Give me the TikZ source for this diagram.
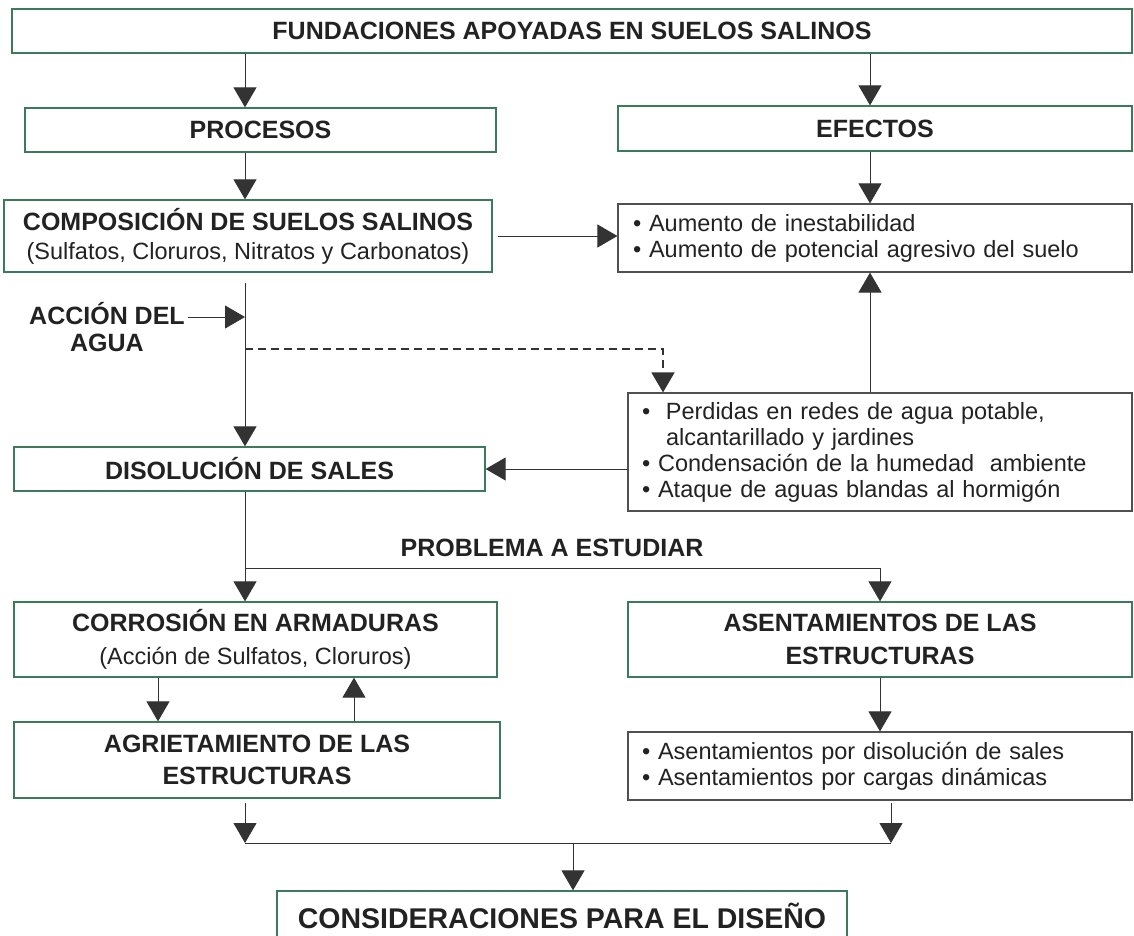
\documentclass[tikz,border=0pt]{standalone}
\usepackage{fontspec}
\setmainfont{Liberation Sans}
\usetikzlibrary{arrows.meta}
\definecolor{BoxGreen}{HTML}{3B7A5A}
\definecolor{BoxGray}{HTML}{505050}
\definecolor{LineGray}{HTML}{333333}
\definecolor{TextGray}{HTML}{222222}

\tikzset{
  titlebox/.style={draw=BoxGreen, line width=1.3pt, text=TextGray, align=center,
    inner sep=0pt, font=\bfseries\fontsize{25}{32}\selectfont},
  listbox/.style={draw=BoxGray, line width=1.2pt, text=TextGray, align=left,
    inner xsep=14pt, inner ysep=0pt, font=\fontsize{23.5}{26}\selectfont},
  headtext/.style={text=TextGray, align=center, font=\bfseries\fontsize{25}{27}\selectfont},
  flow/.style={LineGray, line width=1pt, -{Triangle[length=20pt,width=23pt]}},
  link/.style={LineGray, line width=1pt},
}

\begin{document}
\begin{tikzpicture}[x=1pt,y=-1pt]
  \fill[white] (0,0) rectangle (1134,935);
  \useasboundingbox (0,0) rectangle (1134,935);
  % columnas y puntos de union
  \coordinate (lcol) at (245,0);
  \coordinate (rcol) at (870,0);
  \coordinate (dcol) at (663,0);
  \coordinate (scol) at (880,0);
  \coordinate (wjoin) at (245,317);
  \coordinate (djoin) at (245,349);
  \coordinate (split) at (245,568);
  \coordinate (mleft) at (245,843);
  \coordinate (mmid) at (573,843);
  \coordinate (mright) at (891,843);

  % cajas
  \node[titlebox, minimum width=1120pt, minimum height=44pt] (top) at (572,31) {FUNDACIONES APOYADAS EN SUELOS SALINOS};
  \node[titlebox, minimum width=471pt, minimum height=44pt] (proc) at (260.5,130) {PROCESOS};
  \node[titlebox, minimum width=514pt, minimum height=45pt] (efec) at (875,128.5) {EFECTOS};
  \node[titlebox, font=\bfseries\fontsize{25}{29}\selectfont, minimum width=488pt, minimum height=72pt] (comp) at (248,236)
    {COMPOSICIÓN DE SUELOS SALINOS\\{\mdseries\fontsize{23.5}{29}\selectfont (Sulfatos, Cloruros, Nitratos y Carbonatos)}};
  \node[listbox, inner xsep=15pt, text width=484pt, minimum height=68pt] (aum) at (875,238)
    {• Aumento de inestabilidad\\• Aumento de potencial agresivo del suelo};
  \node[headtext] (agua) at (107,327) {ACCIÓN DEL\\AGUA};
  \node[listbox, text width=476pt, minimum height=118pt] (perd) at (880,452)
    {•\ \ Perdidas en redes de agua potable,\\\hspace*{24pt}alcantarillado y jardines\\• Condensación de la humedad\ \ ambiente\\• Ataque de aguas blandas al hormigón};
  \node[titlebox, minimum width=471pt, minimum height=44pt] (diso) at (249.5,469) {DISOLUCIÓN DE SALES};
  \node[headtext] (prob) at (552,548) {PROBLEMA A ESTUDIAR};
  \node[titlebox, font=\bfseries\fontsize{25}{33}\selectfont, minimum width=483pt, minimum height=75pt] (corr) at (255.5,639.5)
    {CORROSIÓN EN ARMADURAS\\{\mdseries\fontsize{23.5}{33}\selectfont (Acción de Sulfatos, Cloruros)}};
  \node[titlebox, font=\bfseries\fontsize{25}{33}\selectfont, minimum width=504pt, minimum height=75pt] (asen) at (880,639.5)
    {ASENTAMIENTOS DE LAS\\ESTRUCTURAS};
  \node[titlebox, minimum width=486pt, minimum height=76pt] (agri) at (257,760) {AGRIETAMIENTO DE LAS\\ESTRUCTURAS};
  \node[listbox, text width=476pt, minimum height=68pt] (asb) at (880,766)
    {• Asentamientos por disolución de sales\\• Asentamientos por cargas dinámicas};
  \node[titlebox, font=\bfseries\fontsize{28.5}{34}\selectfont, minimum width=570pt, minimum height=50pt] (cons) at (562,916)
    {CONSIDERACIONES PARA EL DISEÑO};

  % flechas
  \draw[flow] (top.south -| lcol) -- (proc.north -| lcol);
  \draw[flow] (top.south -| rcol) -- (efec.north -| rcol);
  \draw[flow] (proc.south -| lcol) -- (comp.north -| lcol);
  \draw[flow] (efec.south -| rcol) -- (aum.north -| rcol);
  \draw[flow, shorten <=5pt] (comp.east) -- (comp.east -| aum.west);
  \draw[flow, shorten <=10pt] (comp.south -| lcol) -- (diso.north -| lcol);
  \draw[flow] (wjoin -| agua.east) -- (wjoin);
  \draw[flow, line width=1.6pt, dash pattern=on 8pt off 5pt] (djoin) -| (perd.north -| dcol);
  \draw[flow] (perd.north -| rcol) -- (aum.south -| rcol);
  \draw[flow] (perd.west |- diso.east) -- (diso.east);
  \draw[link] (diso.south -| lcol) -- (split);
  \draw[flow] (split) -- (corr.north -| lcol);
  \draw[flow] (split) -| (asen.north -| scol);
  \draw[flow] (corr.south -| 158,0) -- (agri.north -| 158,0);
  \draw[flow] (agri.north -| 354,0) -- (corr.south -| 354,0);
  \draw[flow] (asen.south -| scol) -- (asb.north -| scol);
  \draw[flow, shorten <=4pt] (agri.south -| mleft) -- (mleft);
  \draw[flow, shorten <=2pt] (asb.south -| mright) -- (mright);
  \draw[link] (mleft) -- (mright);
  \draw[flow] (mmid) -- (cons.north -| mmid);
\end{tikzpicture}
\end{document}
